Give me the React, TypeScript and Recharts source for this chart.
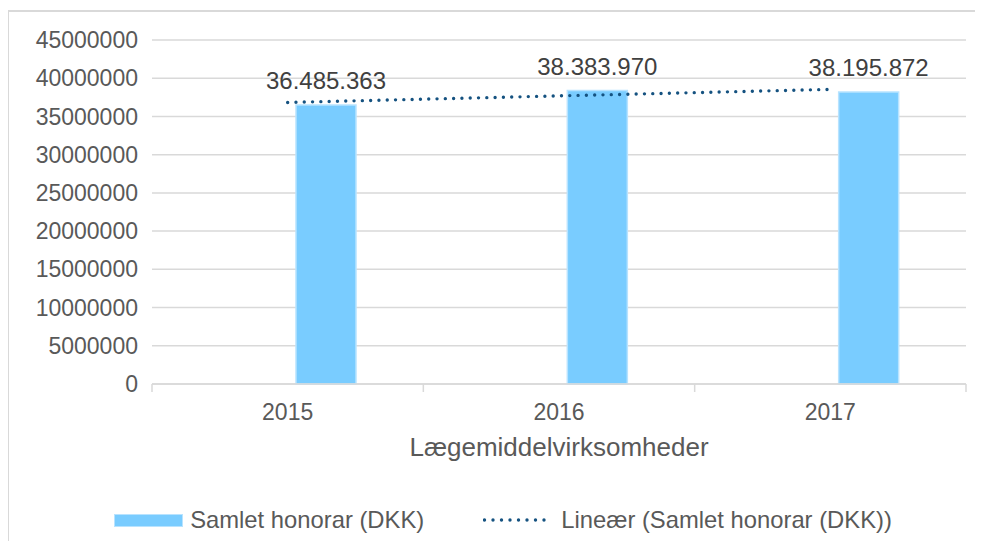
import { ComposedChart, Bar, Line, XAxis, YAxis, CartesianGrid, LabelList, Legend } from 'recharts';

const years = ['2015', '2016', '2017'];
const honorar = [36485363, 38383970, 38195872];
// skjult serie i Excel-grafen (tom), derfor sidder søjlerne til højre for midten
const hiddenSeries = [0, 0, 0];
// lineær trendlinje
const trend = [36830000, 37690000, 38540000];
const yTicks = [0, 5000000, 10000000, 15000000, 20000000, 25000000, 30000000, 35000000, 40000000, 45000000];

const data = years.map((year, i) => ({
  year,
  hidden: hiddenSeries[i],
  honorar: honorar[i],
  trend: trend[i],
}));

const W = 983;
const H = 549;
const MARGIN = { top: 40, right: 17, bottom: 9, left: 0 };
const Y_AXIS_W = 152;
const BAND = (W - MARGIN.left - MARGIN.right - Y_AXIS_W) / years.length;

const GRID = '#d9d9d9';
const TEXT = '#595959';
const BAR = '#79CCFF';
const TREND = '#155280';
const FONT = '"Liberation Sans", Arial, sans-serif';

const formatDk = (v: number) => String(Math.round(v)).replace(/\B(?=(\d{3})+(?!\d))/g, '.');

function YearTick(props: any) {
  const { x, y, payload, index } = props;
  const half = BAND / 2;
  return (
    <g>
      <line x1={x - half} x2={x - half} y1={y} y2={y + 8} stroke={GRID} strokeWidth={1.5} />
      {index === years.length - 1 && (
        <line x1={x + half} x2={x + half} y1={y} y2={y + 8} stroke={GRID} strokeWidth={1.5} />
      )}
      <text x={x} y={y + 36} textAnchor="middle" fill={TEXT} fontSize={23} fontFamily={FONT}>
        {payload.value}
      </text>
    </g>
  );
}

function ChartLegend() {
  return (
    <div style={{ display: 'flex', justifyContent: 'center', alignItems: 'center', height: 40, paddingLeft: 40, fontSize: 23.8, color: TEXT, fontFamily: FONT, whiteSpace: 'nowrap' }}>
      <span style={{ display: 'inline-block', width: 69, height: 13, background: BAR, border: '1px solid #B8E3FF', boxSizing: 'border-box', marginRight: 7 }} />
      <span>Samlet honorar (DKK)</span>
      <svg width={70} height={10} style={{ marginLeft: 59, marginRight: 8 }}>
        <line x1={1.5} x2={69} y1={5} y2={5} stroke={TREND} strokeWidth={3.4} strokeDasharray="0 8.5" strokeLinecap="round" />
      </svg>
      <span>Lineær (Samlet honorar (DKK))</span>
    </div>
  );
}

export default function App() {
  return (
    <div style={{ position: 'relative', width: W, height: H, margin: -8, background: '#fff', fontFamily: FONT }}>
      <div style={{ position: 'absolute', left: 7, top: 10, width: W, height: H, borderLeft: `2px solid ${GRID}`, borderTop: `2px solid ${GRID}` }} />
      <div style={{ position: 'absolute', left: 0, top: 0 }}>
        <ComposedChart width={W} height={H} data={data} margin={MARGIN} barSize={60} barGap={16}>
          <CartesianGrid vertical={false} stroke={GRID} strokeWidth={1.5} />
          <XAxis
            dataKey="year"
            height={116}
            axisLine={{ stroke: GRID, strokeWidth: 1.5 }}
            tickLine={false}
            tickSize={0}
            tickMargin={0}
            tick={<YearTick />}
            interval={0}
            label={{ value: 'Lægemiddelvirksomheder', position: 'insideBottom', offset: 44, fill: TEXT, fontSize: 26, fontFamily: FONT }}
          />
          <YAxis
            width={Y_AXIS_W}
            domain={[0, 45000000]}
            ticks={yTicks}
            interval={0}
            axisLine={false}
            tickLine={false}
            tickSize={0}
            tickMargin={14}
            tick={{ fill: TEXT, fontSize: 23, fontFamily: FONT }}
            tickFormatter={(v: number) => String(v)}
          />
          <Legend verticalAlign="bottom" height={40} content={<ChartLegend />} />
          <Bar dataKey="hidden" fill="transparent" isAnimationActive={false} legendType="none" />
          <Bar dataKey="honorar" fill={BAR} stroke="#B8E3FF" strokeWidth={1.5} isAnimationActive={false}>
            <LabelList
              dataKey="honorar"
              position="top"
              offset={16}
              formatter={(v: any) => formatDk(Number(v))}
              fill="#404040"
              fontSize={24}
              fontFamily={FONT}
            />
          </Bar>
          <Line
            dataKey="trend"
            type="linear"
            stroke={TREND}
            strokeWidth={3.4}
            strokeDasharray="0 8.3"
            strokeLinecap="round"
            dot={false}
            activeDot={false}
            isAnimationActive={false}
            legendType="none"
          />
        </ComposedChart>
      </div>
    </div>
  );
}
